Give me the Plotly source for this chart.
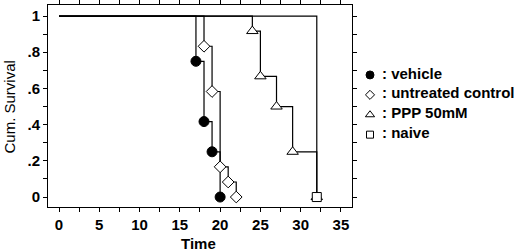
import plotly.graph_objects as go

# Kaplan-Meier data (time, cumulative survival)
vehicle_t = [0, 17, 18, 19, 20]
vehicle_s = [1, 0.75, 0.417, 0.25, 0]
untreated_t = [0, 18, 19, 20, 21, 22]
untreated_s = [1, 0.833, 0.583, 0.167, 0.083, 0]
ppp_t = [0, 24, 25, 27, 29, 32]
ppp_s = [1, 0.917, 0.667, 0.5, 0.25, 0]
naive_t = [0, 32]
naive_s = [1, 0]

x_ticks = [0, 5, 10, 15, 20, 25, 30, 35]
y_ticks = [0, 0.2, 0.4, 0.6, 0.8, 1]
y_ticktext = ["0", ".2", ".4", ".6", ".8", "1"]
legend_labels = ["vehicle", "untreated control", "PPP 50mM", "naive"]

series = [
    (vehicle_t, vehicle_s, "circle", "black", 10),
    (untreated_t, untreated_s, "diamond", "white", 9),
    (ppp_t, ppp_s, "triangle-up", "white", 10),
    (naive_t, naive_s, "square", "white", 9),
]

FONT = "Liberation Sans, Arial, sans-serif"
fig = go.Figure()
for t, s, sym, fill, size in series:
    fig.add_trace(go.Scatter(x=t, y=s, mode="lines", line=dict(color="black", width=1.2, shape="hv"),
                             showlegend=False, hoverinfo="skip"))
for t, s, sym, fill, size in series:
    fig.add_trace(go.Scatter(x=t[1:], y=s[1:], mode="markers", showlegend=False,
                             marker=dict(symbol=sym, size=size, color=fill,
                                         line=dict(color="black", width=1))))
# legend-only entries with smaller symbols
for t, s, sym, fill, size in series:
    fig.add_trace(go.Scatter(x=[None], y=[None], mode="markers", name=" ", showlegend=True,
                             marker=dict(symbol=sym, size=size - 2, color=fill,
                                         line=dict(color="black", width=1))))

axis_common = dict(showline=True, linecolor="black", linewidth=1, mirror="ticks",
                   ticks="outside", ticklen=4, tickcolor="black", showgrid=False, zeroline=False,
                   automargin=False,
                   tickfont=dict(family=FONT, size=15, color="black", weight="bold"))
fig.update_xaxes(range=[-1.365, 36.37], tickvals=x_ticks,
                 minor=dict(dtick=2.5, ticks="outside", ticklen=4, tickcolor="black", showgrid=False),
                 **axis_common)
fig.update_yaxes(range=[-0.055, 1.061], tickvals=y_ticks, ticktext=y_ticktext,
                 minor=dict(dtick=0.1, ticks="outside", ticklen=4, tickcolor="black", showgrid=False),
                 **axis_common)

# legend text rows (paper coordinates of plot area 48..352 x 5..207 px)
legend_y_px = [73, 92.5, 112.5, 132]
annotations = [
    dict(text="Cum. Survival", xref="paper", yref="paper", x=(9 - 48) / 304, y=(207 - 107.5) / 202,
         xanchor="center", yanchor="middle",
         textangle=-90, showarrow=False, font=dict(family=FONT, size=15, color="black")),
    dict(text="Time", xref="paper", yref="paper", x=(198 - 48) / 304, y=(207 - 243) / 202,
         xanchor="center", yanchor="middle",
         showarrow=False, font=dict(family=FONT, size=15, color="black", weight="bold")),
]
for lab, py in zip(legend_labels, legend_y_px):
    annotations.append(dict(text=": " + lab, xref="paper", yref="paper", x=(380 - 48) / 304,
                            y=(207 - py) / 202, xanchor="left", yanchor="middle", showarrow=False,
                            font=dict(family=FONT, size=15, color="black", weight="bold")))

fig.update_layout(
    width=520, height=252,
    margin=dict(l=48, r=168, t=5, b=45, autoexpand=False),
    paper_bgcolor="white", plot_bgcolor="white",
    showlegend=True,
    legend=dict(x=(350 - 48) / 304, y=(207 - 60) / 202, xanchor="left", yanchor="top", itemwidth=30,
                tracegroupgap=0, bgcolor="rgba(0,0,0,0)",
                font=dict(family=FONT, size=13, color="black")),
    annotations=annotations,
)
fig.write_html("out.html", config={"displayModeBar": False},
               post_script="document.body.style.margin='0';document.body.style.overflow='hidden';")
